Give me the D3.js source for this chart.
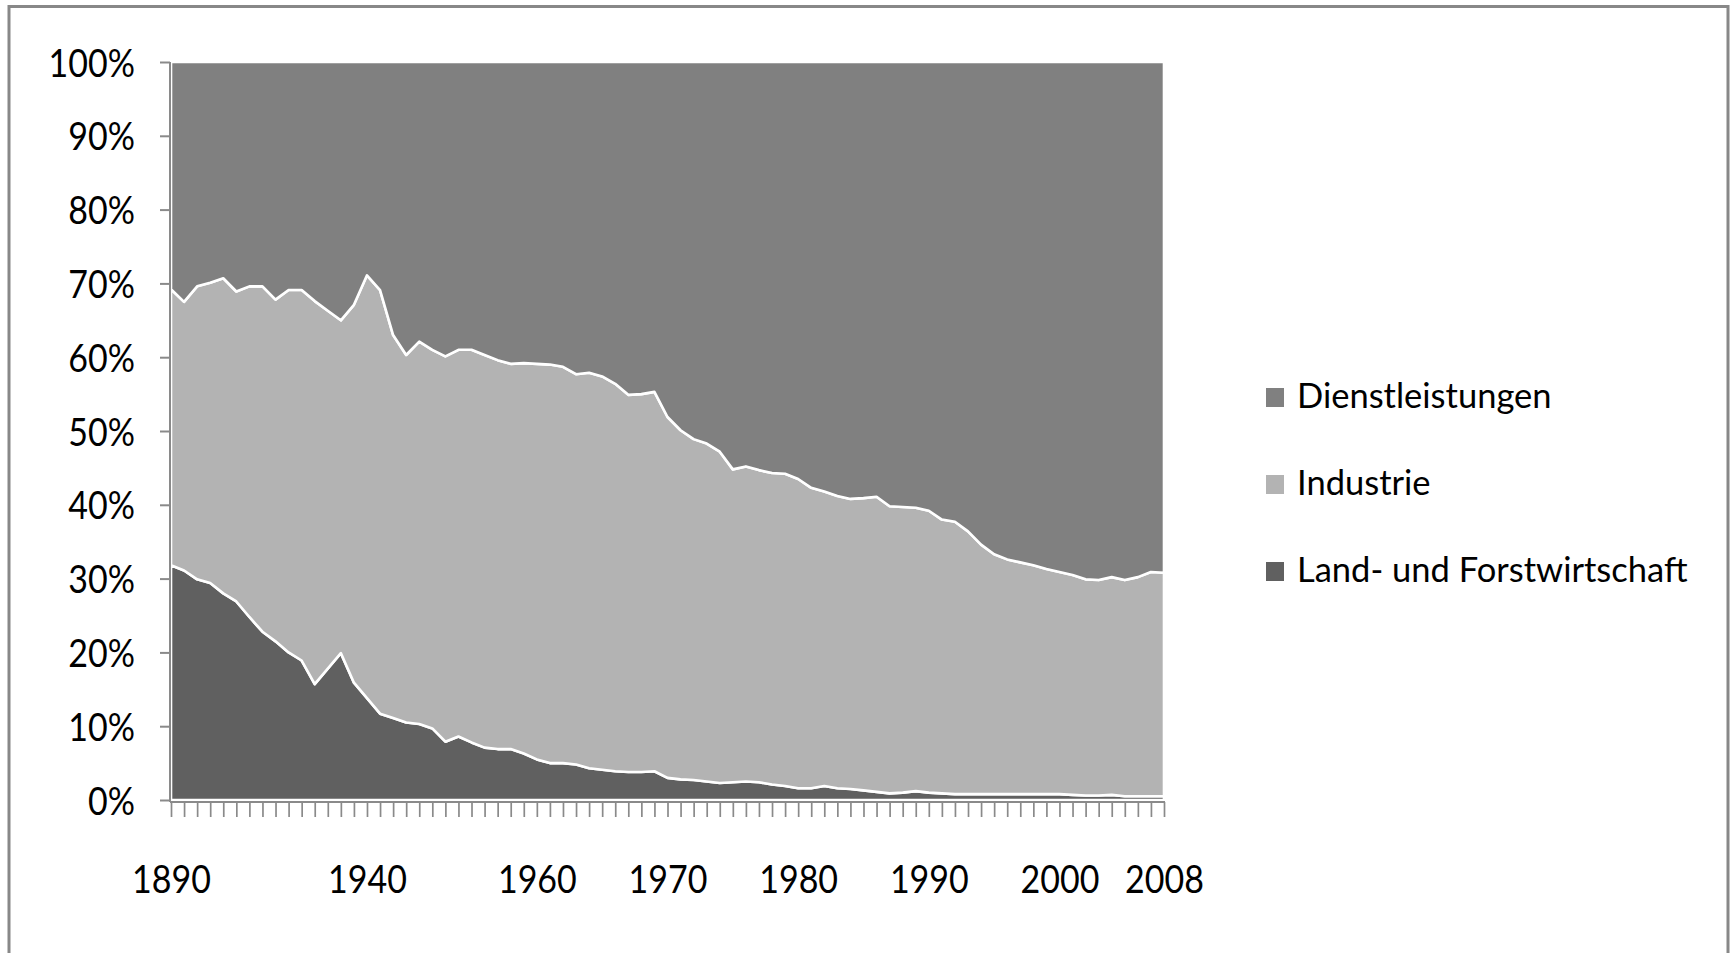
<!DOCTYPE html>
<html>
<head>
<meta charset="utf-8">
<script src="https://cdn.jsdelivr.net/npm/d3@7"></script>
<style>
  html, body { margin: 0; padding: 0; background: #fff; }
  svg { display: block; }
  text { font-family: Lato, "Open Sans", sans-serif; fill: #000; }
</style>
</head>
<body>
<svg id="chart" width="1734" height="953"></svg>
<script>
// ---- data (percent shares) ----
const categories = ["1890","","","","","","","","","","","","","","","1940","","","","","","","","","","","","","1960","","","","","","","","","","1970","","","","","","","","","","1980","","","","","","","","","","1990","","","","","","","","","","2000","","","","","","","","2008"];

const landForst = [31.8,31.1,29.9,29.4,28.0,26.9,24.8,22.8,21.5,20.0,18.9,15.7,17.8,19.9,15.9,13.8,11.7,11.1,10.5,10.3,
  9.7,7.9,8.6,7.8,7.1,6.9,6.9,6.3,5.5,5.0,5.0,4.8,4.3,4.1,3.9,3.8,3.8,3.9,3.0,2.8,
  2.7,2.5,2.3,2.4,2.5,2.4,2.1,1.9,1.6,1.6,1.9,1.6,1.5,1.3,1.1,0.9,1.0,1.2,1.0,0.9,
  0.8,0.8,0.8,0.8,0.8,0.8,0.8,0.8,0.8,0.7,0.6,0.6,0.7,0.5,0.5,0.5,0.5];

const industrie = [37.4,36.4,39.7,40.7,42.7,42.0,44.8,46.8,46.3,49.1,50.2,51.9,48.5,45.1,51.2,57.3,57.4,51.9,49.8,51.8,
  51.3,52.2,52.4,53.2,53.2,52.7,52.2,52.9,53.6,54.0,53.7,52.9,53.6,53.3,52.5,51.1,51.2,51.4,48.9,47.3,
  46.2,45.8,44.9,42.4,42.7,42.3,42.2,42.3,41.9,40.7,39.9,39.6,39.3,39.6,40.0,38.9,38.7,38.4,38.2,37.1,
  36.9,35.6,33.8,32.5,31.8,31.4,31.0,30.5,30.1,29.8,29.3,29.2,29.5,29.3,29.7,30.4,30.3];

const dienstleistungen = [30.8,32.5,30.4,29.9,29.3,31.1,30.4,30.4,32.2,30.9,30.9,32.4,33.7,35.0,32.9,28.9,30.9,37.0,39.7,37.9,
  39.0,39.9,39.0,39.0,39.7,40.4,40.9,40.8,40.9,41.0,41.3,42.3,42.1,42.6,43.6,45.1,45.0,44.7,48.1,49.9,
  51.1,51.7,52.8,55.2,54.8,55.3,55.7,55.8,56.5,57.7,58.2,58.8,59.2,59.1,58.9,60.2,60.3,60.4,60.8,62.0,
  62.3,63.6,65.4,66.7,67.4,67.8,68.2,68.7,69.1,69.5,70.1,70.2,69.8,70.2,69.8,69.1,69.2];

const seriesNames = ["Land- und Forstwirtschaft", "Industrie", "Dienstleistungen"];
const seriesColors = ["#606060", "#b3b3b3", "#808080"];
const yTicks = [0, 0.1, 0.2, 0.3, 0.4, 0.5, 0.6, 0.7, 0.8, 0.9, 1.0];

// ---- build table ----
const table = categories.map((c, i) => ({
  idx: i,
  [seriesNames[0]]: landForst[i],
  [seriesNames[1]]: industrie[i],
  [seriesNames[2]]: dienstleistungen[i]
}));

const svg = d3.select("#chart");

// outer frame
svg.append("path")
  .attr("d", "M9,953 L9,6.5 L1728,6.5 L1728,953")
  .attr("fill", "none").attr("stroke", "#888").attr("stroke-width", 3);

const x = d3.scalePoint().domain(d3.range(categories.length)).range([171, 1164]);
const y = d3.scaleLinear().domain([0, 1]).range([800, 62]);

const stack = d3.stack().keys(seriesNames).offset(d3.stackOffsetExpand);
const stacked = stack(table);

const area = d3.area()
  .x(d => x(d.data.idx))
  .y0(d => y(d[0]))
  .y1(d => y(d[1]));

svg.append("g").selectAll("path")
  .data(stacked)
  .join("path")
  .attr("d", area)
  .attr("fill", (d, i) => seriesColors[i])
  .attr("stroke", "#fff")
  .attr("stroke-width", 2.6)
  .attr("stroke-linejoin", "round");

const SY = 1.15;
const axisColor = "#8a8a8a";

// y axis
const yAxis = svg.append("g")
  .attr("transform", "translate(170,0)")
  .call(d3.axisLeft(y).tickValues(yTicks).tickSize(10).tickPadding(0)
    .tickFormat(d => Math.round(d * 100) + "%"));
yAxis.select(".domain").attr("stroke", axisColor).attr("stroke-width", 2)
  .attr("d", "M0," + y(1) + "V" + 802);
yAxis.selectAll(".tick line").attr("stroke", axisColor).attr("stroke-width", 2);
yAxis.selectAll(".tick text")
  .attr("x", -35).attr("dy", null).attr("y", 12.2)
  .attr("transform", `scale(1,${SY})`)
  .style("font-size", "34px").style("font-family", "Lato").attr("fill", "#000");

// x axis
const xAxis = svg.append("g")
  .attr("transform", "translate(0,802)")
  .call(d3.axisBottom(x).tickSize(15).tickFormat(i => categories[i]));
xAxis.select(".domain").attr("stroke", axisColor).attr("stroke-width", 2)
  .attr("d", "M170,0H1165");
xAxis.selectAll(".tick line").attr("stroke", axisColor).attr("stroke-width", 1.7);
xAxis.selectAll(".tick text")
  .attr("y", 91 / SY).attr("dy", null)
  .attr("transform", `scale(1,${SY})`)
  .style("font-size", "34px").style("font-family", "Lato").attr("fill", "#000");

// legend
const legendItems = [
  { name: seriesNames[2], color: seriesColors[2], base: 408 },
  { name: seriesNames[1], color: seriesColors[1], base: 495 },
  { name: seriesNames[0], color: seriesColors[0], base: 582 }
];
const lg = svg.append("g").selectAll("g").data(legendItems).join("g");
lg.append("rect")
  .attr("x", 1266).attr("y", d => d.base - 20)
  .attr("width", 18).attr("height", 19)
  .attr("fill", d => d.color);
lg.append("text")
  .attr("x", 1297).attr("y", d => d.base)
  .style("font-size", "34.5px")
  .text(d => d.name);
</script>
</body>
</html>
